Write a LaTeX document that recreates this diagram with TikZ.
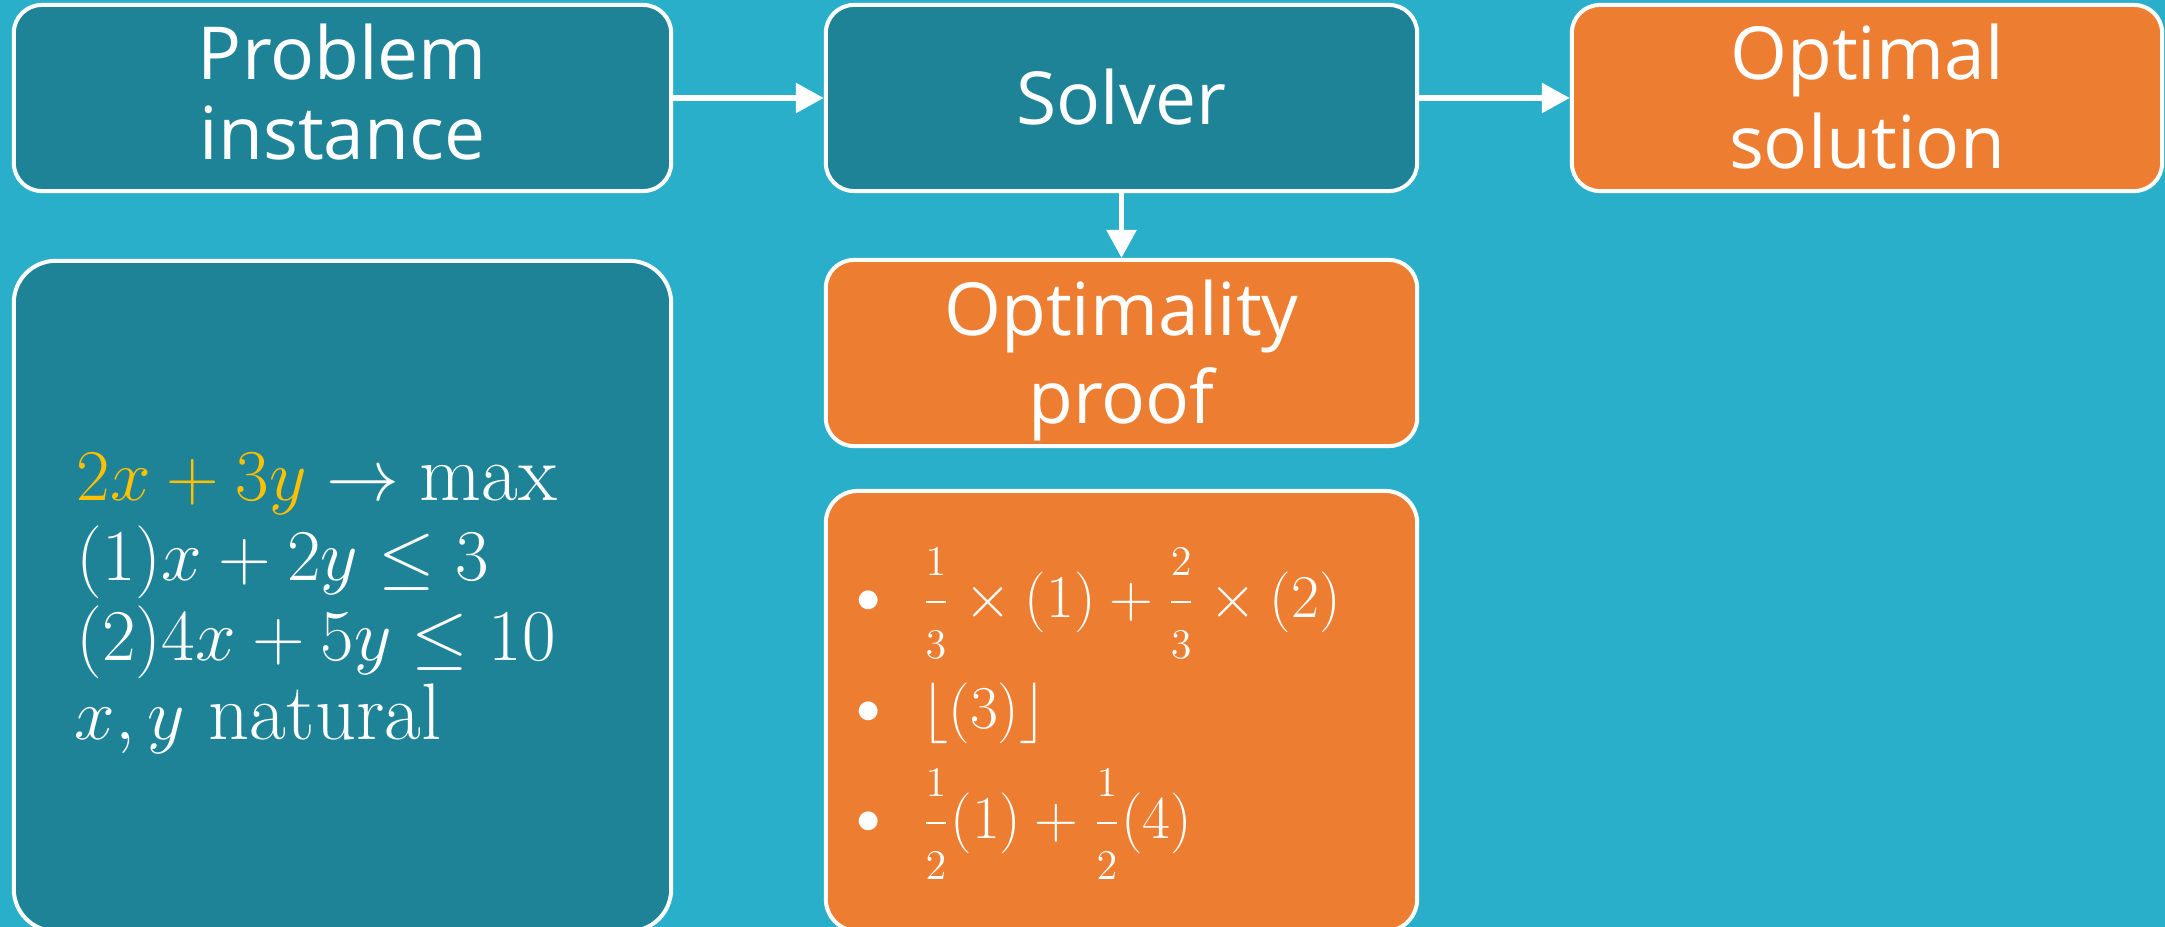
\documentclass[tikz,border=0pt]{standalone}
\usepackage{amsmath}
\usepackage{fontspec}
\newfontfamily\osans{Open Sans}
\usetikzlibrary{arrows.meta}
\definecolor{bgc}{HTML}{2AAFCA}
\definecolor{teal}{HTML}{1F8397}
\definecolor{orng}{HTML}{ED7D31}
\definecolor{yel}{HTML}{FFC000}
\newcommand\fr[2]{\dfrac{\scriptstyle #1}{\scriptstyle #2}}
\newcommand\bul{\mathord{\vcenter{\hbox{\scalebox{0.8}{$\bullet$}}}}}
\begin{document}
\begin{tikzpicture}[x=0.01cm,y=-0.01cm,
  boxbase/.style={draw=white, line width=0.04cm, inner sep=0pt},
  tealbox/.style={boxbase, fill=teal},
  orbox/.style={boxbase, fill=orng},
  small/.style={minimum height=1.86cm, rounded corners=0.28cm},
  ttl/.style={text=white, inner sep=0pt, anchor=base, font=\osans\fontsize{20.8}{25}\selectfont},
  mathl/.style={text=white, inner sep=0pt, anchor=base west, font=\fontsize{22.8}{27}\selectfont},
  mathp/.style={text=white, inner sep=0pt, anchor=base west, font=\fontsize{18.6}{22}\selectfont},
  arr/.style={draw=white, line width=0.057cm, -{Triangle[length=0.28cm,width=0.29cm]}}
]
\useasboundingbox (0,0) rectangle (2165,927);
\fill[bgc] (0,0) rectangle (2165,927);

% boxes
\node[tealbox, small, minimum width=6.57cm] (prob) at (342.5,98) {};
\node[tealbox, small, minimum width=5.91cm] (solver) at (1121.5,98) {};
\node[orbox, small, minimum width=5.90cm] (opt) at (1867,98) {};
\node[orbox, small, minimum width=5.91cm] (proofT) at (1121.5,353) {};
\node[tealbox, minimum width=6.57cm, minimum height=6.70cm, rounded corners=0.42cm] (lp) at (342.5,596) {};
\node[orbox, minimum width=5.91cm, minimum height=4.40cm, rounded corners=0.32cm] (proofB) at (1121.5,711) {};

% titles
\node[ttl] (tprob1) at (342.5,79) {Problem};
\node[ttl] (tprob2) at (342.5,159) {instance};
\node[ttl] (tsolv) at (1121.5,124) {Solver};
\node[ttl] (topt1) at (1867,79) {Optimal};
\node[ttl] (topt2) at (1867,168) {solution};
\node[ttl] (tpf1) at (1121.5,335) {Optimality};
\node[ttl] (tpf2) at (1121.5,423) {proof};

% LP
\node[mathl] (l1) at (76,500) {${\color{yel}2x+3y}\to\mathrm{max}$};
\node[mathl] (l2) at (76,580) {$(1)x+2y\le 3$};
\node[mathl] (l3) at (76,660) {$(2)4x+5y\le 10$};
\node[mathl] (l4) at (74,739) {$x,y\ \mathrm{natural}$};

% proof
\node[mathp] (p1) at (856,617) {$\bul\mkern12mu\fr{1}{3}\times(1)+\fr{2}{3}\times(2)$};
\node[mathp] (p2) at (856,728) {$\bul\mkern12mu\lfloor(3)\rfloor$};
\node[mathp] (p3) at (856,838) {$\bul\mkern12mu\fr{1}{2}(1)+\fr{1}{2}(4)$};

% arrows
\draw[arr] (prob.east) -- (solver.west);
\draw[arr] (solver.east) -- (opt.west);
\draw[arr] (solver.south) -- (proofT.north);
\end{tikzpicture}
\end{document}
